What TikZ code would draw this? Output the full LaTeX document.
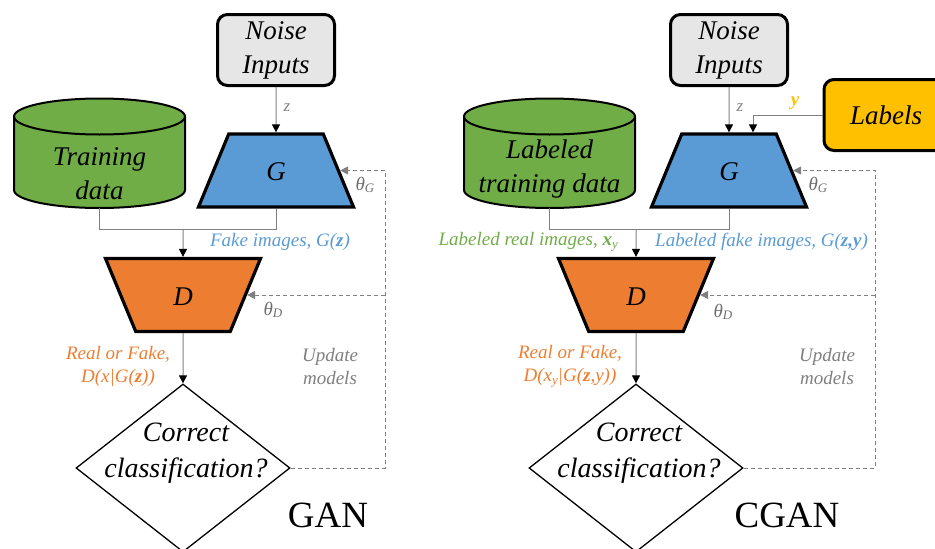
\documentclass[tikz,border=0pt]{standalone}
\usepackage{fontspec}
\setmainfont{Liberation Serif}
\usetikzlibrary{shapes.geometric,arrows.meta}

\definecolor{gGreen}{HTML}{70AD47}
\definecolor{gBlue}{HTML}{5B9BD5}
\definecolor{gOrange}{HTML}{ED7D31}
\definecolor{gYellow}{HTML}{FFC000}
\definecolor{gBox}{HTML}{E7E6E6}
\definecolor{gLine}{HTML}{7F7F7F}
\definecolor{gGray}{HTML}{7F7F7F}
\definecolor{gTheta}{HTML}{6E6E6E}

\newcommand\fBig{\fontsize{27}{34}\selectfont}
\newcommand\fDec{\fontsize{28}{36}\selectfont}
\newcommand\fSmall{\fontsize{19}{23}\selectfont}
\newcommand\fZ{\fontsize{17}{20}\selectfont}
\newcommand\fHuge{\fontsize{37}{40}\selectfont}
\newcommand\lowidx[1]{\raisebox{-0.3ex}{\fontsize{13}{13}\selectfont #1}}

\tikzset{
  inbox/.style={draw=black, line width=3pt, rounded corners=10pt, fill=gBox,
    minimum width=117pt, minimum height=71pt, inner sep=0pt, align=center,
    font=\fBig\itshape},
  lblbox/.style={inbox, fill=gYellow, minimum width=124pt},
  % the natural height is fixed at 73pt so that the side angles are kept
  netG/.style={trapezium, trapezium left angle=67.5, trapezium right angle=67.5,
    trapezium stretches body, minimum width=155pt,
    text height=20pt, text depth=0pt, inner ysep=26.5pt, inner xsep=0pt,
    draw=black, line width=3.2pt, fill=gBlue, font=\fBig\itshape},
  netD/.style={netG, fill=gOrange, trapezium left angle=112.5, trapezium right angle=112.5},
  drum/.style={draw=black, line width=2pt, fill=gGreen},
  drumtext/.style={align=center, font=\fBig\itshape, inner sep=0pt},
  decide/.style={diamond, draw=black, line width=1.3pt, minimum width=214pt,
    minimum height=168pt, inner sep=0pt},
  dectext/.style={align=center, font=\fDec\itshape, inner sep=0pt},
  link/.style={draw=gLine, line width=1pt},
  conn/.style={link, -{Triangle[length=8pt,width=8pt,black]}},
  fb/.style={draw=gLine, line width=1pt, dash pattern=on 4pt off 3pt,
    -{Triangle[length=8pt,width=8pt,gLine]}},
  small/.style={font=\fSmall\itshape, inner sep=0pt, align=center},
  zlab/.style={font=\fZ\itshape, text=gGray, inner sep=0pt},
  thlab/.style={small, text=gTheta},
  title/.style={font=\fHuge, inner sep=0pt},
}

\begin{document}
\begin{tikzpicture}[x=1pt,y=-1pt]
\useasboundingbox (0,0) rectangle (935,549);
\clip (0,0) rectangle (935,549);

% ---------------- GAN ----------------
% training data drum
\path[drum] (14,116.5) -- (14,190)
  arc[start angle=180,end angle=360,x radius=85.5pt,y radius=18pt] -- (185,116.5)
  arc[start angle=0,end angle=180,x radius=85.5pt,y radius=18pt] -- cycle;
\draw[line width=2pt] (14,116.5) arc[start angle=180,end angle=360,x radius=85.5pt,y radius=18pt];
\node[drumtext] (tr1) at (99.5,174) {Training\\data};
\coordinate (tr1b) at (99.5,208);

\node[inbox] (n1) at (276,50) {Noise\\Inputs};
\node[netG] (g1) at (276,170.5) {G};
\node[netD] (d1) at (183,295) {D};
\node[decide] (c1) at (183,468) {};
\node[dectext] (c1t) at (186,453) {Correct\\classification?};
\node[title] (t1) at (328,515) {GAN};

\draw[conn] (n1.south) -- (g1.north);
\node[zlab] (z1) at (287,108) {z};

\draw[link] (tr1b) -- ++(0,21) -| (g1.south);
\coordinate (j1) at (183,229);
\draw[conn] (j1) -- (d1.north);
\draw[conn] (d1.south) -- (c1.north);

\coordinate (fb1) at (385,0);
\draw[fb] (c1.east) -| (fb1 |- g1.east) -- (g1.east);
\draw[fb] (fb1 |- d1.east) -- (d1.east);

\node[small, text=gBlue] (fk1) at (280,242) {Fake images, G(\textbf{z})};
\node[small, text=gOrange] (rf1) at (118,366) {Real or Fake,\\D(x|G(\textbf{z}))};
\node[small, text=gGray] (up1) at (330,367) {Update\\models};
\node[thlab] (thg1) at (365,185) {θ\lowidx{G}};
\node[thlab] (thd1) at (273,310) {θ\lowidx{D}};

% ---------------- CGAN ----------------
\path[drum] (464,116.5) -- (464,190)
  arc[start angle=180,end angle=360,x radius=85.5pt,y radius=18pt] -- (635,116.5)
  arc[start angle=0,end angle=180,x radius=85.5pt,y radius=18pt] -- cycle;
\draw[line width=2pt] (464,116.5) arc[start angle=180,end angle=360,x radius=85.5pt,y radius=18pt];
\node[drumtext] (tr2) at (549.5,169.5) {Labeled\\training data};
\coordinate (tr2b) at (549.5,208);

\node[inbox] (n2) at (729,50) {Noise\\Inputs};
\node[lblbox] (lb) at (886,115) {Labels};
\node[netG] (g2) at (729,170.5) {G};
\node[netD] (d2) at (636,295) {D};
\node[decide] (c2) at (636,468) {};
\node[dectext] (c2t) at (639,453) {Correct\\classification?};
\node[title] (t2) at (787,515) {CGAN};

\draw[conn] (n2.south) -- (g2.north);
\node[zlab] (z2) at (740,108) {z};
\draw[conn] (lb.west) -| ([xshift=24pt]g2.north);
\node[font=\fSmall\bfseries\itshape, text=gYellow, inner sep=0pt] (ylab) at (795,103) {y};

\draw[link] (tr2b) -- ++(0,21) -| (g2.south);
\coordinate (j2) at (636,229);
\draw[conn] (j2) -- (d2.north);
\draw[conn] (d2.south) -- (c2.north);

\coordinate (fb2) at (875,0);
\draw[fb] (c2.east) -| (fb2 |- g2.east) -- (g2.east);
\draw[fb] (fb2 |- d2.east) -- (d2.east);

\node[small, text=gGreen, anchor=east] (lr2) at (618,242) {Labeled real images, \textbf{x}\lowidx{y}};
\node[small, text=gBlue, anchor=west] (lf2) at (655,242) {Labeled fake images, G(\textbf{z,y})};
\node[small, text=gOrange] (rf2) at (570,366) {Real or Fake,\\D(x\lowidx{y}|G(\textbf{z},y))};
\node[small, text=gGray] (up2) at (827,367) {Update\\models};
\node[thlab] (thg2) at (818,185) {θ\lowidx{G}};
\node[thlab] (thd2) at (723,312) {θ\lowidx{D}};
\end{tikzpicture}
\end{document}
